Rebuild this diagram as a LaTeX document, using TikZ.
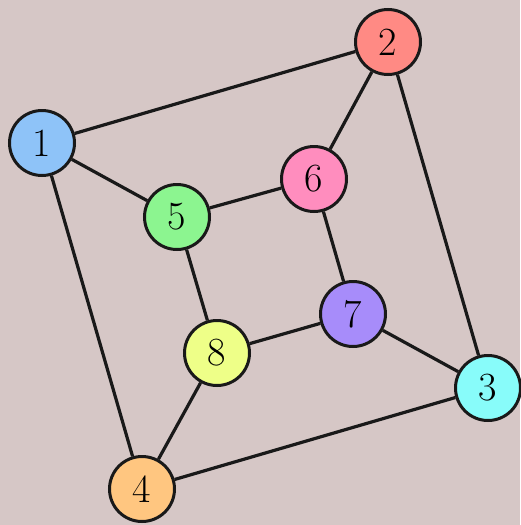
\documentclass[tikz,border=0pt]{standalone}
\definecolor{bg}{HTML}{D6C7C6}
\definecolor{c1}{HTML}{8EC3F8}
\definecolor{c2}{HTML}{FF8A84}
\definecolor{c3}{HTML}{88FCFA}
\definecolor{c4}{HTML}{FFC680}
\definecolor{c5}{HTML}{8CF590}
\definecolor{c6}{HTML}{FF8DBE}
\definecolor{c7}{HTML}{A78CFA}
\definecolor{c8}{HTML}{EEFF88}
\begin{document}
\begin{tikzpicture}[x=1pt,y=-1pt,
  vert/.style={circle,draw=black!90,line width=3pt,minimum size=65pt,inner sep=0pt,
    font=\fontsize{40}{40}\selectfont},
  edge/.style={line width=3.2pt,black!90}]
\fill[bg] (0,0) rectangle (520,525);
\useasboundingbox (0,0) rectangle (520,525);
\node[vert,fill=c1] (n1) at (42,143) {1};
\node[vert,fill=c2] (n2) at (388,42) {2};
\node[vert,fill=c3] (n3) at (488,388) {3};
\node[vert,fill=c4] (n4) at (142,489) {4};
\node[vert,fill=c5] (n5) at (177,217) {5};
\node[vert,fill=c6] (n6) at (314,179) {6};
\node[vert,fill=c7] (n7) at (353,314) {7};
\node[vert,fill=c8] (n8) at (217,353) {8};
\draw[edge] (n1) -- (n2);
\draw[edge] (n1) -- (n5);
\draw[edge] (n1) -- (n4);
\draw[edge] (n2) -- (n6);
\draw[edge] (n2) -- (n3);
\draw[edge] (n5) -- (n6);
\draw[edge] (n5) -- (n8);
\draw[edge] (n6) -- (n7);
\draw[edge] (n7) -- (n8);
\draw[edge] (n7) -- (n3);
\draw[edge] (n8) -- (n4);
\draw[edge] (n4) -- (n3);
\end{tikzpicture}
\end{document}
